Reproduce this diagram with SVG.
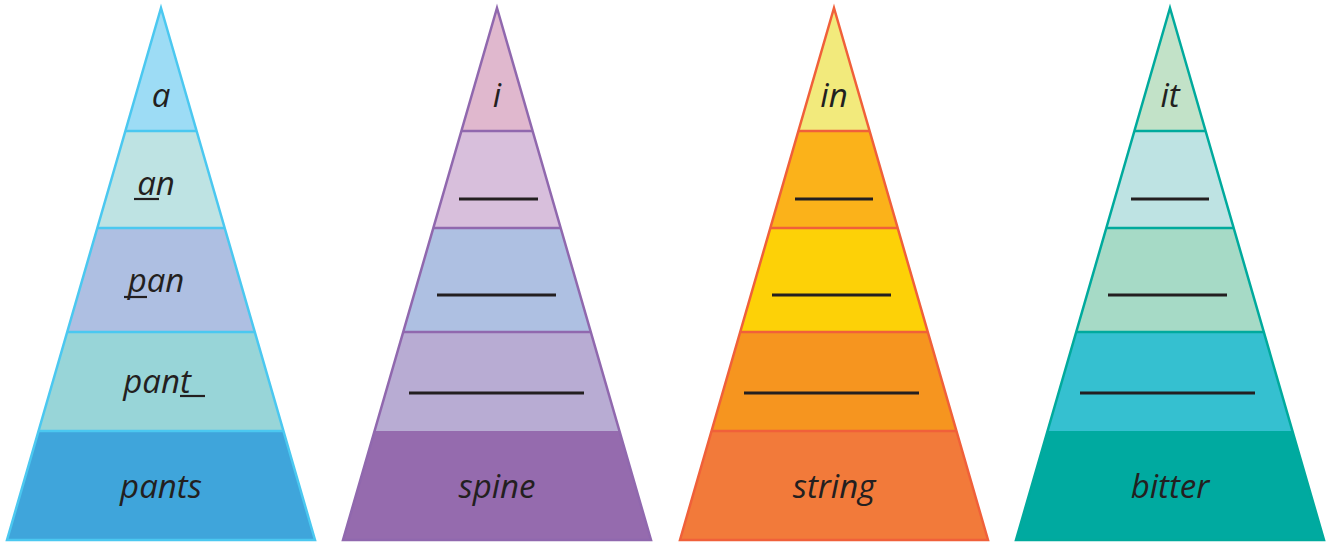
<svg xmlns="http://www.w3.org/2000/svg" width="1330" height="542" viewBox="0 0 1330 542">
<style>
.word{font-family:"Open Sans","Noto Sans",sans-serif;font-style:italic;font-size:33px;fill:#231F20;text-anchor:middle}
.ul{stroke:#231F20;stroke-width:2.2}
.blank{stroke:#231F20;stroke-width:3}
.outline{fill:none;stroke-width:2.5;stroke-linejoin:miter}
.div{stroke-width:2.5}
</style>
<defs>
<polygon id="b1" points="0,8 35.6,131 -35.6,131"/>
<polygon id="b2" points="-35.6,131 35.6,131 63.7,228 -63.7,228"/>
<polygon id="b3" points="-63.7,228 63.7,228 93.8,332 -93.8,332"/>
<polygon id="b4" points="-93.8,332 93.8,332 122.4,431 -122.4,431"/>
<polygon id="b5" points="-122.4,431 122.4,431 154,540 -154,540"/>
</defs>

<g id="pyramid-pants" transform="translate(161,0)">
<use href="#b1" fill="#9DDCF5"/>
<use href="#b2" fill="#BEE3E3"/>
<use href="#b3" fill="#AEBFE2"/>
<use href="#b4" fill="#98D5D8"/>
<use href="#b5" fill="#3FA5DB"/>
<g stroke="#4BC8F0">
<line class="div" x1="-35.6" y1="131" x2="35.6" y2="131"/>
<line class="div" x1="-63.7" y1="228" x2="63.7" y2="228"/>
<line class="div" x1="-93.8" y1="332" x2="93.8" y2="332"/>
<line class="div" x1="-122.4" y1="431" x2="122.4" y2="431"/>
<polygon class="outline" points="0,8 154,540 -154,540"/>
</g>
<text class="word" x="0" y="107">a</text>
<text class="word" x="-5" y="195">an</text>
<line class="ul" x1="-27" y1="199" x2="-2" y2="199"/>
<text class="word" x="-5" y="292">pan</text>
<line class="ul" x1="-37" y1="297" x2="-14" y2="297"/>
<text class="word" x="-4" y="393">pant</text>
<line class="ul" x1="19" y1="396" x2="44" y2="396"/>
<text class="word" x="0" y="498">pants</text>
</g>

<g id="pyramid-spine" transform="translate(497,0)">
<use href="#b1" fill="#E0B8CE"/>
<use href="#b2" fill="#D8BFDC"/>
<use href="#b3" fill="#AEC0E2"/>
<use href="#b4" fill="#B8ACD3"/>
<use href="#b5" fill="#956BAE"/>
<g stroke="#9068AE">
<line class="div" x1="-35.6" y1="131" x2="35.6" y2="131"/>
<line class="div" x1="-63.7" y1="228" x2="63.7" y2="228"/>
<line class="div" x1="-93.8" y1="332" x2="93.8" y2="332"/>
<polygon class="outline" points="0,8 154,540 -154,540"/>
</g>
<text class="word" x="0" y="107">i</text>
<line class="blank" x1="-38" y1="199" x2="41" y2="199"/>
<line class="blank" x1="-60" y1="295" x2="59" y2="295"/>
<line class="blank" x1="-88" y1="393" x2="87" y2="393"/>
<text class="word" x="0" y="498">spine</text>
</g>

<g id="pyramid-string" transform="translate(834,0)">
<use href="#b1" fill="#F2EA7C"/>
<use href="#b2" fill="#FBB21A"/>
<use href="#b3" fill="#FDD107"/>
<use href="#b4" fill="#F6951F"/>
<use href="#b5" fill="#F27A3A"/>
<g stroke="#F0603A">
<line class="div" x1="-35.6" y1="131" x2="35.6" y2="131"/>
<line class="div" x1="-63.7" y1="228" x2="63.7" y2="228"/>
<line class="div" x1="-93.8" y1="332" x2="93.8" y2="332"/>
<line class="div" x1="-122.4" y1="431" x2="122.4" y2="431"/>
<polygon class="outline" points="0,8 154,540 -154,540"/>
</g>
<text class="word" x="0" y="107">in</text>
<line class="blank" x1="-39" y1="199" x2="39" y2="199"/>
<line class="blank" x1="-62" y1="295" x2="57" y2="295"/>
<line class="blank" x1="-90" y1="393" x2="85" y2="393"/>
<text class="word" x="0" y="498">string</text>
</g>

<g id="pyramid-bitter" transform="translate(1170,0)">
<use href="#b1" fill="#C2E2C8"/>
<use href="#b2" fill="#BEE3E3"/>
<use href="#b3" fill="#A6DAC6"/>
<use href="#b4" fill="#35C0D0"/>
<use href="#b5" fill="#00AAA0"/>
<g stroke="#00AA9D">
<line class="div" x1="-35.6" y1="131" x2="35.6" y2="131"/>
<line class="div" x1="-63.7" y1="228" x2="63.7" y2="228"/>
<line class="div" x1="-93.8" y1="332" x2="93.8" y2="332"/>
<polygon class="outline" points="0,8 154,540 -154,540"/>
</g>
<text class="word" x="0" y="107">it</text>
<line class="blank" x1="-39" y1="199" x2="39" y2="199"/>
<line class="blank" x1="-62" y1="295" x2="57" y2="295"/>
<line class="blank" x1="-90" y1="393" x2="85" y2="393"/>
<text class="word" x="0" y="498">bitter</text>
</g>

<g id="connectors"/>
</svg>
